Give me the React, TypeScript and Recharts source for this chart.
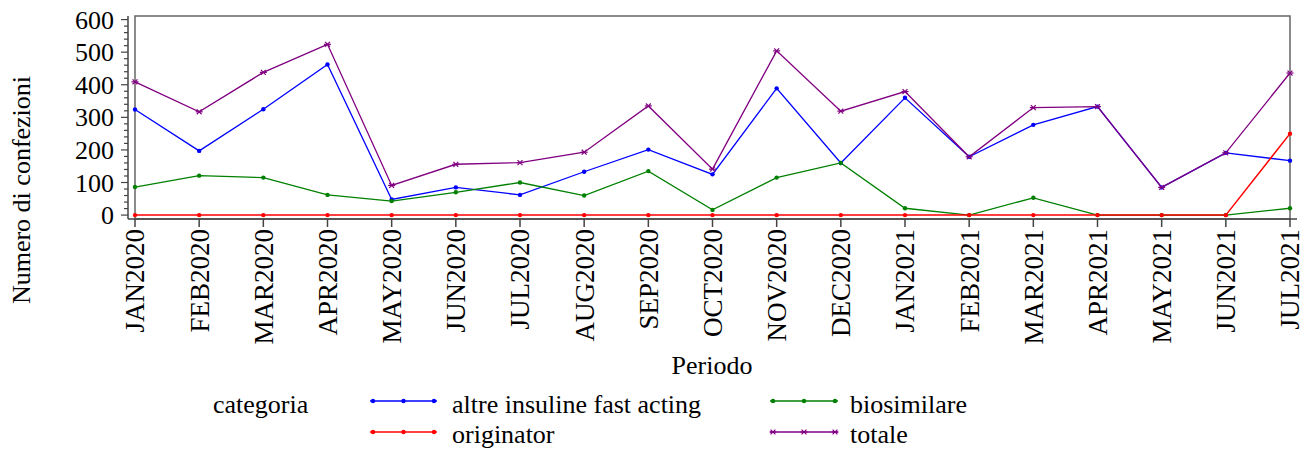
import { LineChart, Line, XAxis, YAxis, Legend, Label, ReferenceArea } from 'recharts';

const months = [
    'JAN2020', 'FEB2020', 'MAR2020', 'APR2020', 'MAY2020', 'JUN2020', 'JUL2020', 'AUG2020', 'SEP2020', 'OCT2020',
    'NOV2020', 'DEC2020', 'JAN2021', 'FEB2021', 'MAR2021', 'APR2021', 'MAY2021', 'JUN2021', 'JUL2021',
];
const altre = [324, 197, 325, 462, 48, 85, 62, 133, 201, 125, 389, 160, 360, 179, 277, 333, 85, 191, 167];
const biosimilare = [86, 121, 115, 62, 43, 70, 100, 60, 135, 16, 115, 160, 21, 0, 53, 0, 0, 0, 21];
const originator = [0, 0, 0, 0, 0, 0, 0, 0, 0, 0, 0, 0, 0, 0, 0, 0, 0, 0, 250];
const totale = [409, 317, 438, 524, 91, 156, 161, 193, 335, 141, 504, 319, 379, 179, 330, 333, 85, 191, 436];

const yTicks = Array.from({ length: 31 }, (_, i) => i * 20);

const data = months.map((m, i) => ({
    m,
    altre: altre[i],
    biosimilare: biosimilare[i],
    originator: originator[i],
    totale: totale[i],
}));

const FONT = '"Liberation Serif", "Times New Roman", serif';
const AXIS = '#444';

const BLUE = '#0000ff';
const GREEN = '#008000';
const RED = '#ff0000';
const PURPLE = '#800080';

function YTick({ x, y, payload }: any) {
    const major = payload.value % 100 === 0;
    return (
        <g>
            <line x1={x - (major ? 7 : 4)} x2={x} y1={y} y2={y} stroke={AXIS} strokeWidth={1.2} />
            {major && (
                <text x={x - 14} y={y} dy="0.35em" textAnchor="end" fontFamily={FONT} fontSize={26} fill="#000">
                    {payload.value}
                </text>
            )}
        </g>
    );
}

function XTick({ x, y, payload }: any) {
    return (
        <text
            x={x}
            y={y}
            dy="0.35em"
            textAnchor="end"
            transform={`rotate(-90, ${x}, ${y})`}
            fontFamily={FONT}
            fontSize={27}
            fill="#000"
        >
            {payload.value}
        </text>
    );
}

function smallDot(color: string) {
    return (p: any) => <circle key={`d${p.index}`} cx={p.cx} cy={p.cy} r={2.2} fill={color} stroke="none" />;
}

function star(cx: number, cy: number, color: string, key?: string) {
    const r = 3.5;
    return (
        <g key={key}>
            <line x1={cx - r} x2={cx + r} y1={cy} y2={cy} stroke={color} strokeWidth={1.2} />
            <line x1={cx - r * 0.7} x2={cx + r * 0.7} y1={cy - r * 0.7} y2={cy + r * 0.7} stroke={color} strokeWidth={1.2} />
            <line x1={cx - r * 0.7} x2={cx + r * 0.7} y1={cy + r * 0.7} y2={cy - r * 0.7} stroke={color} strokeWidth={1.2} />
        </g>
    );
}

const starDot = (p: any) => star(p.cx, p.cy, PURPLE, `s${p.index}`);

function sample(x1: number, x2: number, y: number, color: string, asterisk?: boolean) {
    const marks = [x1 + 3, (x1 + x2) / 2, x2 - 3];
    return (
        <g>
            <line x1={x1} x2={x2} y1={y} y2={y} stroke={color} strokeWidth={1.5} />
            {marks.map((mx, i) =>
                asterisk ? star(mx, y, color, `m${i}`) : <circle key={`m${i}`} cx={mx} cy={y} r={2.2} fill={color} />
            )}
        </g>
    );
}

function LegendBox() {
    const t = { fontFamily: FONT, fontSize: 26, fill: '#000' };
    return (
        <svg width={1312} height={67} style={{ display: 'block' }}>
            <text x={213} y={28} {...t}>categoria</text>
            {sample(370, 437, 16, BLUE)}
            <text x={452} y={28} {...t}>altre insuline fast acting</text>
            {sample(770, 838, 16, GREEN)}
            <text x={850} y={28} {...t}>biosimilare</text>
            {sample(370, 437, 47, RED)}
            <text x={452} y={58} {...t}>originator</text>
            {sample(770, 838, 47, PURPLE, true)}
            <text x={850} y={58} {...t}>totale</text>
        </svg>
    );
}

export default function App() {
    return (
        <div style={{ position: 'absolute', left: 0, top: 0, width: 1312, height: 452, background: '#fff' }}>
            <LineChart width={1312} height={452} data={data} margin={{ top: 16, right: 15, left: 0, bottom: 0 }}>
                <XAxis
                    dataKey="m"
                    height={166}
                    interval={0}
                    padding={{ left: 7, right: 7 }}
                    stroke={AXIS}
                    strokeWidth={1.5}
                    tickSize={8}
                    tickMargin={2}
                    tick={<XTick />}
                >
                    <Label
                        content={() => (
                            <text x={712} y={374} textAnchor="middle" fontFamily={FONT} fontSize={26} fill="#000">
                                Periodo
                            </text>
                        )}
                    />
                </XAxis>
                <YAxis
                    width={128}
                    domain={[-12, 611]}
                    ticks={yTicks}
                    interval={0}
                    tickSize={0}
                    tickMargin={0}
                    tickLine={false}
                    stroke={AXIS}
                    strokeWidth={1.5}
                    tick={<YTick />}
                >
                    <Label
                        content={() => (
                            <text
                                x={21}
                                y={190}
                                dy="0.35em"
                                textAnchor="middle"
                                transform="rotate(-90, 21, 190)"
                                fontFamily={FONT}
                                fontSize={26}
                                fill="#000"
                            >
                                Numero di confezioni
                            </text>
                        )}
                    />
                </YAxis>
                <ReferenceArea y1={-12} y2={611} fill="none" stroke="#666" strokeWidth={1.5} ifOverflow="visible" />
                <Legend verticalAlign="bottom" content={() => <LegendBox />} wrapperStyle={{ height: 67, left: 0, width: 1312 }} />
                <Line dataKey="altre" stroke={BLUE} strokeWidth={1.3} dot={smallDot(BLUE)} activeDot={false} isAnimationActive={false} />
                <Line dataKey="biosimilare" stroke={GREEN} strokeWidth={1.3} dot={smallDot(GREEN)} activeDot={false} isAnimationActive={false} />
                <Line dataKey="originator" stroke={RED} strokeWidth={1.5} dot={smallDot(RED)} activeDot={false} isAnimationActive={false} />
                <Line dataKey="totale" stroke={PURPLE} strokeWidth={1.3} dot={starDot} activeDot={false} isAnimationActive={false} />
            </LineChart>
        </div>
    );
}
